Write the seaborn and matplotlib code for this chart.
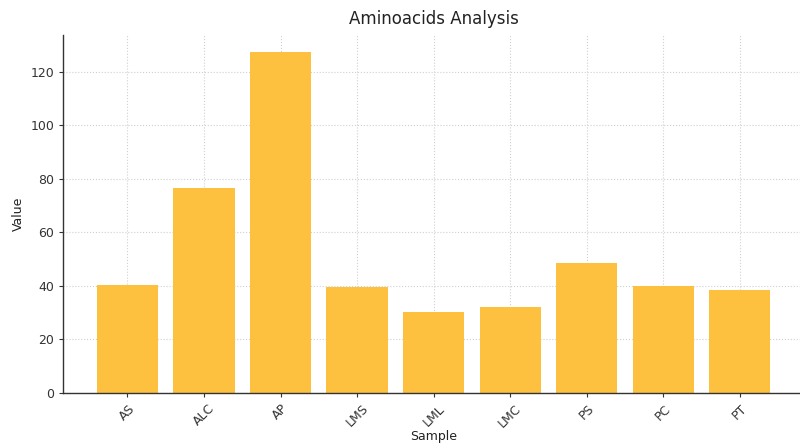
import matplotlib
matplotlib.use("Agg")
import matplotlib.pyplot as plt
import seaborn as sns
import pandas as pd

samples = ["AS", "ALC", "AP", "LMS", "LML", "LMC", "PS", "PC", "PT"]
values = [40.4, 76.6, 127.5, 39.7, 30.4, 32.0, 48.6, 39.9, 38.5]

df = pd.DataFrame({"Sample": samples, "Value": values})

sns.set_style("white")
plt.rcParams['font.family'] = ['DejaVu Sans']

fig = plt.figure(figsize=(8, 4.44), dpi=100)
ax = fig.add_axes([0.079, 0.115, 0.926, 0.806])
sns.barplot(data=df, x="Sample", y="Value", color="#FDC03F", saturation=1,
            width=0.8, ax=ax, zorder=2, linewidth=0)
ax.set_xlim(-0.84, 8.84)
ax.set_ylim(0, 133.8)
ax.set_yticks([0, 20, 40, 60, 80, 100, 120])
ax.grid(True, linestyle=":", color="#d0d0d0", linewidth=0.8, zorder=0)
ax.set_axisbelow(True)
for s in ["top", "right"]:
    ax.spines[s].set_visible(False)
for s in ["left", "bottom"]:
    ax.spines[s].set_color("#333333")
    ax.spines[s].set_linewidth(1.0)
ax.tick_params(axis="both", labelsize=9, colors="#333333", length=3, bottom=True, left=True)
plt.setp(ax.get_xticklabels(), rotation=45)
ax.set_title("Aminoacids Analysis", fontsize=12, color="#222222", pad=8)
ax.set_xlabel("Sample", fontsize=9, color="#222222", labelpad=0)
ax.set_ylabel("Value", fontsize=9, color="#222222")
fig.savefig("out.png", dpi=100)
